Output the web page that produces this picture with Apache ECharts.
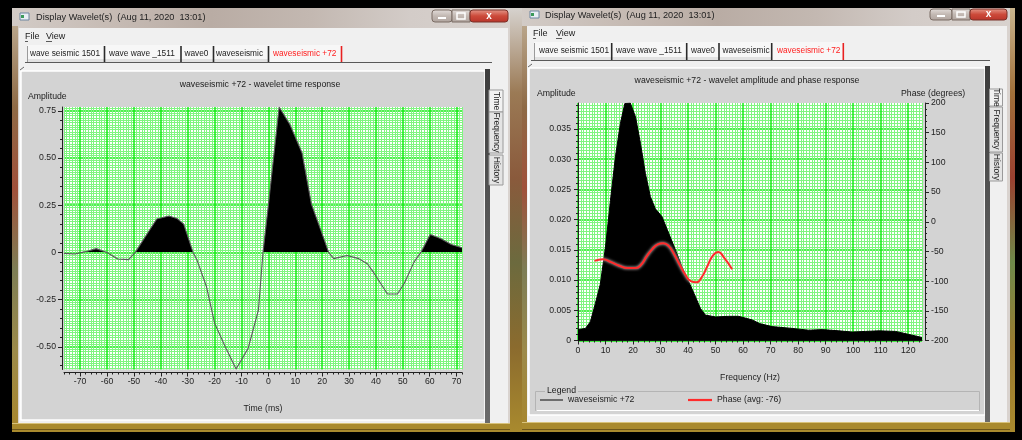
<!DOCTYPE html>
<html><head><meta charset="utf-8">
<script src="https://cdn.jsdelivr.net/npm/echarts@6/dist/echarts.min.js"></script>
<style>html,body{margin:0;padding:0;background:#000}#c{width:1022px;height:440px}</style>
</head><body><div id="c"></div>
<script>
// ---------------- data ----------------
const timeMs = [-76,-72,-68,-64,-60,-56,-52,-49.5,-45,-41.5,-37,-34,-31.5,-28,-26.5,-23,-20,-15.5,-12,-7.5,-3.7,-2,0,4,8,12.5,16,20,22.4,24.3,29.3,33.6,36.8,39.3,44.3,48,50.5,54.2,56.7,60.2,64.2,68,72];
const amplitude = [-0.005,-0.008,0.004,0.02,0,-0.035,-0.038,0,0.1,0.177,0.193,0.18,0.15,0,-0.042,-0.182,-0.375,-0.516,-0.617,-0.507,-0.305,0,0.25,0.77,0.677,0.528,0.256,0.098,0,-0.033,-0.016,-0.033,-0.06,-0.11,-0.22,-0.22,-0.165,-0.05,0,0.095,0.072,0.042,0.025];
const freqHz = [0,2.7,4.5,6.3,8.1,10,11.8,13.6,15.4,17,19,20.9,22.7,24.5,26.3,28.1,30.5,33,35.4,37.8,40.3,42.7,44.5,46.3,50,54.8,58.4,63.3,66,70.5,77.8,83.9,88.7,94.8,99.6,104.5,109.3,115.4,120.3,125];
const spectrum = [0.0018,0.002,0.0031,0.0061,0.0093,0.0155,0.0232,0.0304,0.0359,0.0392,0.0393,0.037,0.0326,0.0276,0.0238,0.0218,0.0205,0.0177,0.015,0.0122,0.0097,0.0072,0.0053,0.0042,0.0039,0.004,0.004,0.0034,0.0028,0.0023,0.002,0.0017,0.0018,0.0016,0.0014,0.0015,0.0016,0.0015,0.001,0.0005];
const phaseFreqHz = [6,9,12,15,18,21,23,25,27,29,31,33,35,37,39,41,43,45,47,49,51,53,56];
const phaseDeg = [-66,-63,-68,-74,-78,-78,-72,-58,-46,-38,-36,-41,-55,-73,-89,-100,-102,-93,-75,-57,-51,-60,-80];

const timeTicks = [-70,-60,-50,-40,-30,-20,-10,0,10,20,30,40,50,60,70];
const ampTicks = [-0.5,-0.25,0,0.25,0.5,0.75];
const freqTicks = [0,10,20,30,40,50,60,70,80,90,100,110,120];
const specTicks = [0,0.005,0.01,0.015,0.02,0.025,0.03,0.035];
const phaseTicks = [-200,-150,-100,-50,0,50,100,150,200];
const tabNames = ['wave seismic 1501','wave wave _1511','wave0','waveseismic','waveseismic +72'];
const windowTitle = 'Display Wavelet(s)  (Aug 11, 2020  13:01)';
const waveName = 'waveseismic +72';
const phaseName = 'Phase (avg: -76)';

// ---------------- helpers ----------------
const FONT = '"Liberation Sans", Arial, sans-serif';
const BRIGHT = '#14ec14';
const PALE = '#80f580';
const INK = '#1a1a1a';
function steps(a, b, s, major) {
  const r = [];
  for (let k = Math.ceil(a / s - 1e-9); k * s <= b + 1e-9; k++) {
    const v = +(k * s).toFixed(6);
    if (major && Math.abs(v / major - Math.round(v / major)) < 1e-6) continue;
    r.push(v);
  }
  return r;
}
const zip = (a, b) => a.map((v, i) => [v, b[i]]);

const G = [];
const Z = -5;
function R(x, y, w, h, fill, stroke, lw, r) {
  G.push({type:'rect', z:Z, silent:true, shape:{x, y, width:w, height:h, r:r||0},
    style:{fill:fill||'none', stroke:stroke||null, lineWidth:lw||1}});
}
function L(x1, y1, x2, y2, c, w) {
  G.push({type:'line', z:Z, silent:true, shape:{x1, y1, x2, y2}, style:{stroke:c, lineWidth:w||1}});
}
function T(x, y, s, o) {
  o = o || {};
  G.push({type:'text', z:Z+1, silent:true, x, y, rotation:o.rot||0,
    style:{text:s, fill:o.color||INK, font:(o.weight||'normal')+' '+(o.size||8.5)+'px '+FONT,
      textAlign:o.align||'left', textVerticalAlign:'middle', align:o.align||'left', verticalAlign:'middle',
      backgroundColor:o.bg||null, padding:o.pad||0}});
}
const hgrad = (stops) => ({type:'linear', x:0, y:0, x2:1, y2:0, colorStops:stops.map((c,i)=>({offset:i/(stops.length-1), color:c}))});
const vgrad = (stops) => ({type:'linear', x:0, y:0, x2:0, y2:1, colorStops:stops.map((c,i)=>({offset:i/(stops.length-1), color:c}))});

function chrome(w) {
  R(w.x0, w.top, w.x1 - w.x0, w.bot - w.top, '#d9d3cf');
  R(w.x0, w.top, w.x1 - w.x0, w.clientTop - w.top, hgrad(['#d2cbc6','#c6bbb4','#b9aca4','#c3b8b1','#d3ccc8','#d8d2ce']));
  R(w.x0, w.top + 18, 6, w.bot - w.top - 18, vgrad(['#b9a58a','#8e6a45','#a0503a','#7d7d55','#9c8a4a','#a8862c']));
  R(w.cx0, w.clientTop, w.cx1 - w.cx0, w.gold - w.clientTop, '#f0f0f0');
  R(w.x0, w.gold, w.x1 - w.x0, w.bot - w.gold, '#a98a2e');
  L(w.x0, w.gold + 0.5, w.x1, w.gold + 0.5, '#d8c27a', 1);
  L(w.x0, w.bot - 2.5, w.x1, w.bot - 2.5, '#6e571b', 1);
  R(w.iconX, w.iconY, 9, 7, '#e8eef4', '#6d86a0', 1);
  R(w.iconX + 1, w.iconY + 2, 3, 3, '#3a9a5a');
  T(w.titleX, w.titleY, windowTitle, {size:9.2, color:'#222'});
  R(w.b0, w.by, w.b1 - w.b0, w.bh, vgrad(['#e4dedb','#c2b8b2','#b0a49e']), '#7a6c64', 1, 3);
  R(w.b1, w.by, w.b2 - w.b1, w.bh, vgrad(['#e4dedb','#c2b8b2','#b0a49e']), '#7a6c64', 1, 0);
  R(w.b2, w.by, w.b3 - w.b2, w.bh, vgrad(['#e59a8c','#cc4a3a','#b8342a']), '#7a3128', 1, 3);
  L((w.b0 + w.b1) / 2 - 4, w.by + w.bh - 4, (w.b0 + w.b1) / 2 + 4, w.by + w.bh - 4, '#ffffff', 2);
  R((w.b1 + w.b2) / 2 - 4, w.by + 3, 8, w.bh - 6, null, '#ffffff', 1.5);
  T((w.b2 + w.b3) / 2, w.by + w.bh / 2, 'x', {size:10, weight:'bold', color:'#ffffff', align:'center'});
  T(w.fileX, w.menuY, 'File', {size:9});
  T(w.viewX, w.menuY, 'View', {size:9});
  L(w.fileX, w.menuY + 5, w.fileX + 3, w.menuY + 5, '#333', 0.8);
  L(w.viewX, w.menuY + 5, w.viewX + 6, w.menuY + 5, '#333', 0.8);
  R(w.tabLeft, w.tabTop, w.redSep - w.tabLeft, w.tabBot - w.tabTop, '#f7f7f7');
  R(w.tabLeft, w.tabBot - 3, w.seps[3] - w.tabLeft, 3, '#e2e2e2');
  L(w.tabLeft + 0.5, w.tabTop + 1, w.tabLeft + 0.5, w.tabBot, '#9a9a9a', 1);
  w.seps.forEach(x => L(x, w.tabTop + 1, x, w.tabBot, '#2a2a2a', 1.6));
  L(w.redSep, w.tabTop + 1, w.redSep, w.tabBot + 1, '#e82020', 1.6);
  L(w.ulX0, w.ulY, w.ulX1, w.ulY, '#5a5a5a', 1.2);
  tabNames.forEach((s, i) => T(w.tabX[i], w.tabY, s, {size:8.3, color: i === tabNames.length - 1 ? '#ff2020' : '#222'}));
  R(w.px0, w.py0, w.px1 - w.px0, w.py1 - w.py0, '#d3d3d3', '#ffffff', 1.5);
  L(w.px0 - 1, w.py0 - 1, w.px0 + 3, w.py0 - 4, '#666', 1);
  R(w.px1, w.py0 - 2, 5, w.gold - w.py0 + 2, vgrad(['#3c3c3c','#5c5c5c','#6a6a6a']));
  const st = w.side;
  [['Time', st.t], ['Frequency', st.f], ['History', st.h]].forEach(([s, r], i) => {
    R(st.x, r[0], st.w, r[1] - r[0], i === 0 ? '#f2f2f2' : '#e4e4e4', '#9a9a9a', 1);
    T(st.x + st.w / 2, (r[0] + r[1]) / 2, s, {size:8.5, align:'center', rot:-Math.PI / 2, color:'#222'});
  });
}

R(508, 8, 14, 424, vgrad(['#d6d2ce','#9b7a55','#8a5a3c','#6c6a3e','#8b6b2e','#a98a2e']));
R(1007, 8, 8, 424, vgrad(['#c9b48d','#a0703a','#9a4030','#6f8a4a','#9a7a30','#a98a2e']));

chrome({x0:12, x1:510, top:8, bot:432, clientTop:28, cx0:19, cx1:508, gold:423,
  iconX:20, iconY:13, titleX:36, titleY:17.5, b0:432, b1:452, b2:470, b3:508, by:10, bh:12,
  fileX:25, viewX:46, menuY:36.5,
  tabLeft:27, tabTop:45, tabBot:62, tabX:[30,109,184.5,216,273], seps:[104.5,181,213.5,268.5], redSep:341.5, tabY:53.5,
  ulX0:25, ulX1:492, ulY:62.5,
  px0:21, py0:71, px1:485, py1:420,
  side:{x:489, w:14, t:[90,112], f:[112,153], h:[155,185]}});
chrome({x0:522, x1:1010, top:8, bot:432, clientTop:26, cx0:527, cx1:1007, gold:422,
  iconX:530, iconY:11, titleX:545, titleY:15.5, b0:930, b1:952, b2:970, b3:1007, by:9, bh:11,
  fileX:533, viewX:556, menuY:33.5,
  tabLeft:534, tabTop:42, tabBot:60, tabX:[539,616,691,722.5,777], seps:[611.7,686.7,719,771.7], redSep:843.3, tabY:50.5,
  ulX0:531, ulX1:990, ulY:60.5,
  px0:529, py0:68, px1:985, py1:415,
  side:{x:989.5, w:13, t:[89,106], f:[107,152], h:[153,181]}});

T(260, 85, 'waveseismic +72 - wavelet time response', {size:8.7, align:'center'});
T(28, 96.5, 'Amplitude', {size:8.7});
T(747, 81, 'waveseismic +72 - wavelet amplitude and phase response', {size:8.7, align:'center'});
T(537, 93.5, 'Amplitude', {size:8.7});
T(901, 93.5, 'Phase (degrees)', {size:8.7});
R(535.5, 391.5, 444, 19, null, '#b4b4b4', 1);
L(536.5, 410.5, 979, 410.5, '#ffffff', 1);
T(545, 391, 'Legend', {size:8.7, bg:'#d3d3d3', pad:[0,2]});

// ---------------- axes ----------------
const lbl = (extra) => Object.assign({color:'#222', fontSize:8.7, fontFamily:FONT}, extra);
function mainAxis(o) {
  return Object.assign({
    type:'value', gridIndex:o.grid, min:o.min, max:o.max, position:o.pos, offset:o.offset||0,
    axisLine:{show:true, onZero:false, lineStyle:{color:'#222', width:1}},
    axisTick:{show:true, customValues:o.ticks, length:4, inside:false, lineStyle:{color:'#222', width:1}},
    axisLabel:{customValues:o.ticks, margin:o.margin, formatter:o.fmt, ...lbl()},
    splitLine:{show:!!o.split, lineStyle:{color:BRIGHT, width:1.5}},
    minorTick:{show:false}, minorSplitLine:{show:false}
  }, o.extra || {});
}
function minorAxis(o) {
  return {type:'value', gridIndex:o.grid, min:o.min, max:o.max, position:o.pos, offset:o.offset||0,
    axisLine:{show:false, onZero:false}, axisLabel:{show:false}, splitLine:{show:false},
    axisTick:{show:true, customValues:o.ticks, length:2, lineStyle:{color:'#222', width:1}}};
}
function fineAxis(o) {
  return {type:'value', gridIndex:o.grid, min:o.min, max:o.max, position:o.pos,
    axisLine:{show:false, onZero:false}, axisLabel:{show:false},
    axisTick:{show:false, customValues:o.ticks},
    splitLine:{show:true, lineStyle:{color:PALE, width:1}}};
}

const tMin = -76, tMax = 72, aMin = -0.62, aMax = 0.77;
const fMin = 0, fMax = 125, sMin = 0, sMax = 0.0393, pMin = -200, pMax = 200;

const xAxis = [
  fineAxis({grid:0, min:tMin, max:tMax, pos:'bottom', ticks:steps(tMin, tMax, 1, 10)}),
  minorAxis({grid:0, min:tMin, max:tMax, pos:'bottom', offset:3, ticks:steps(tMin, tMax, 2)}),
  mainAxis({grid:0, min:tMin, max:tMax, pos:'bottom', offset:3, ticks:timeTicks, margin:5, split:true,
    extra:{name:'Time (ms)', nameLocation:'middle', nameGap:32, nameTextStyle:lbl()}}),
  fineAxis({grid:1, min:fMin, max:fMax, pos:'bottom', ticks:steps(fMin, fMax, 1, 10)}),
  minorAxis({grid:1, min:fMin, max:fMax, pos:'bottom', offset:0, ticks:steps(fMin, fMax, 2)}),
  mainAxis({grid:1, min:fMin, max:fMax, pos:'bottom', offset:0, ticks:freqTicks, margin:6, split:true,
    extra:{name:'Frequency (Hz)', nameLocation:'middle', nameGap:33, nameTextStyle:lbl()}})
];
const yAxis = [
  fineAxis({grid:0, min:aMin, max:aMax, pos:'left', ticks:steps(aMin, aMax, 0.0125, 0.25)}),
  minorAxis({grid:0, min:aMin, max:aMax, pos:'left', offset:2, ticks:steps(aMin, aMax, 0.05)}),
  mainAxis({grid:0, min:aMin, max:aMax, pos:'left', offset:2, ticks:ampTicks, margin:6, split:true,
    fmt:(v) => v === 0 ? '0' : v.toFixed(2)}),
  fineAxis({grid:1, min:sMin, max:sMax, pos:'left', ticks:steps(sMin, sMax, 0.0005, 0.005)}),
  minorAxis({grid:1, min:sMin, max:sMax, pos:'left', offset:0, ticks:steps(sMin, sMax, 0.001)}),
  mainAxis({grid:1, min:sMin, max:sMax, pos:'left', offset:0, ticks:specTicks, margin:7, split:true,
    fmt:(v) => v === 0 ? '0' : v.toFixed(3)}),
  minorAxis({grid:1, min:pMin, max:pMax, pos:'right', offset:3, ticks:steps(pMin, pMax, 10)}),
  mainAxis({grid:1, min:pMin, max:pMax, pos:'right', offset:3, ticks:phaseTicks, margin:6, split:false,
    fmt:(v) => String(v)})
];

const ampHi = Math.max(...amplitude), ampLo = Math.min(...amplitude);
const zeroStop = ampHi / (ampHi - ampLo);

const option = {
  backgroundColor:'#000000',
  animation:false,
  graphic:{elements:G},
  grid:[
    {left:64, top:107, width:398, height:262.5, show:true, backgroundColor:'#ffffff', borderWidth:0},
    {left:578, top:103, width:344, height:237.5, show:true, backgroundColor:'#ffffff', borderWidth:0}
  ],
  xAxis, yAxis,
  legend:[
    {data:[waveName], left:540, top:395.5, padding:0, icon:'rect', itemWidth:23, itemHeight:1.2,
      selectedMode:false, textStyle:lbl({color:'#222'})},
    {data:[phaseName], left:688, top:395.5, padding:0, icon:'rect', itemWidth:24, itemHeight:2.2,
      selectedMode:false, textStyle:lbl({color:'#222'})}
  ],
  series:[
    {name:'time response', type:'line', xAxisIndex:2, yAxisIndex:2, data:zip(timeMs, amplitude),
      showSymbol:false, symbol:'none', lineStyle:{color:'#5a5a5a', width:1.1}, itemStyle:{color:'#5a5a5a'},
      areaStyle:{opacity:1, color:{type:'linear', x:0, y:0, x2:0, y2:1, colorStops:[
        {offset:0, color:'#000'}, {offset:zeroStop, color:'#000'},
        {offset:zeroStop, color:'rgba(0,0,0,0)'}, {offset:1, color:'rgba(0,0,0,0)'}]}}, z:3},
    {name:waveName, type:'line', xAxisIndex:5, yAxisIndex:5, data:zip(freqHz, spectrum),
      showSymbol:false, symbol:'none', lineStyle:{color:'#000', width:1}, itemStyle:{color:'#2a2a2a'},
      areaStyle:{color:'#000', opacity:1}, z:3},
    {name:phaseName, type:'line', xAxisIndex:5, yAxisIndex:7, data:zip(phaseFreqHz, phaseDeg),
      showSymbol:false, symbol:'none', smooth:0.5,
      lineStyle:{color:'#ff2b2b', width:2, shadowColor:'rgba(255,235,235,0.95)', shadowBlur:3},
      itemStyle:{color:'#ff2b2b'}, z:4}
  ]
};
const chart = echarts.init(document.getElementById('c'), null, {renderer:'canvas'});
chart.setOption(option);
</script></body></html>
